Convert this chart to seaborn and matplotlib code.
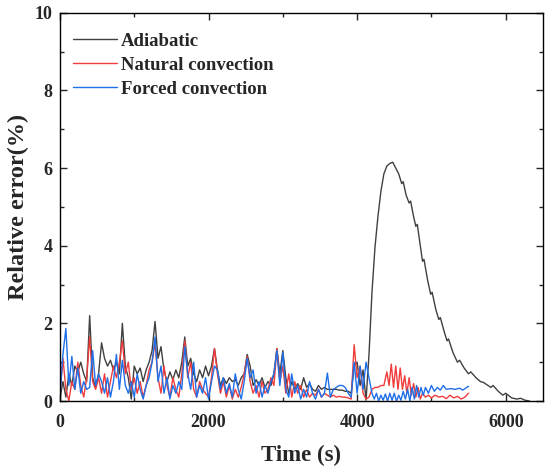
import matplotlib
matplotlib.use("Agg")
import matplotlib.pyplot as plt
import numpy as np
import pandas as pd
import seaborn as sns
from matplotlib.ticker import MultipleLocator

# 0 ~ 4080 s 구간 (40 s 간격)
t_early = np.arange(0, 4120, 40)

adiabatic_early = [
    0.05, 0.5, 0.1, 0.7, 0.4, 0.9, 0.75, 1.0, 0.7, 0.5,
    2.2, 0.6, 0.35, 0.7, 1.5, 1.1, 0.9, 1.05, 0.8, 1.0,
    0.7, 2.0, 0.9, 0.6, 0.05, 0.9, 0.7, 0.85, 0.5, 0.8,
    1.0, 1.3, 2.05, 1.1, 1.4, 0.8, 0.5, 0.75, 0.55, 0.8,
    0.6, 1.0, 1.65, 0.9, 1.1, 0.7, 0.5, 0.8, 0.6, 0.9,
    0.65, 0.9, 1.35, 0.8, 0.4, 0.6, 0.45, 0.6, 0.5, 0.55,
    0.4, 0.6, 0.7, 1.2, 0.9, 0.4, 0.55, 0.4, 0.6, 0.35,
    0.5, 0.4, 0.7, 1.35, 0.7, 1.3, 0.6, 0.2, 0.5, 0.3,
    0.45, 0.3, 0.6, 0.35, 0.45, 0.3, 0.25, 0.4, 0.3, 0.35,
    0.3, 0.3, 0.3, 0.3, 0.28, 0.28, 0.25, 0.25, 0.2, 0.9,
    1.0, 0.4, 0.8,
]
natural_early = [
    0.2, 1.1, 0.3, 0.0, 0.5, 0.3, 1.0, 0.4, 0.1, 0.6,
    1.65, 0.5, 0.3, 0.6, 0.2, 0.7, 0.1, 0.5, 0.9, 0.6,
    1.0, 1.55, 0.7, 1.0, 0.3, 0.6, 0.2, 0.5, 0.1, 0.4,
    0.8, 1.0, 1.5, 0.6, 0.2, 0.9, 0.4, 0.1, 0.6, 0.3,
    0.1, 0.7, 1.55, 0.6, 1.0, 0.3, 0.1, 0.5, 0.3, 0.2,
    0.1, 0.6, 1.35, 0.7, 0.2, 0.5, 0.1, 0.4, 0.05, 0.3,
    0.1, 0.35, 0.7, 1.15, 0.5, 0.2, 0.4, 0.1, 0.5, 0.2,
    0.3, 0.6, 0.4, 1.35, 0.5, 0.9, 0.2, 0.7, 0.1, 0.5,
    0.2, 0.4, 0.1, 0.3, 0.1, 0.2, 0.15, 0.3, 0.1, 0.2,
    0.15, 0.1, 0.15, 0.1, 0.12, 0.1, 0.1, 0.08, 0.05, 1.45,
    0.6, 0.9, 0.2,
]
forced_early = [
    0.1, 1.2, 1.87, 0.4, 1.15, 0.3, 0.85, 0.2, 0.5, 0.3,
    0.35, 1.3, 0.4, 0.7, 0.5, 0.2, 0.6, 0.1, 0.5, 1.2,
    0.3, 1.05, 0.4, 0.2, 0.5, 0.1, 0.7, 0.3, 0.05, 0.4,
    0.6, 1.0, 1.65, 0.5, 0.9, 0.2, 0.6, 0.05, 0.4, 0.2,
    0.5, 0.3, 1.4, 0.7, 0.3, 1.0, 0.1, 0.4, 0.2, 0.6,
    0.05, 0.5, 0.9, 0.8, 0.3, 0.6, 0.2, 0.45, 0.1, 0.7,
    0.3, 0.05, 0.5, 1.1, 0.6, 0.8, 0.2, 0.5, 0.1, 0.4,
    0.2, 0.5, 0.7, 1.3, 0.4, 1.25, 0.3, 0.1, 0.7, 0.2,
    0.4, 0.05, 0.3, 0.1, 0.5, 0.2, 0.05, 0.3, 0.1, 0.2,
    0.72, 0.1, 0.3, 0.35, 0.4, 0.4, 0.35, 0.2, 0.1, 1.0,
    0.2, 0.9, 0.3,
]

# 4120 s 이후 구간
t_adiabatic_late = [
    4120, 4160, 4200, 4240, 4280, 4320, 4360, 4400, 4440, 4480,
    4520, 4560, 4600, 4620, 4660, 4700, 4720, 4760, 4790, 4810,
    4850, 4880, 4900, 4950, 4990, 5010, 5060, 5100, 5120, 5170,
    5210, 5230, 5290, 5350, 5380, 5440, 5500, 5530, 5600, 5660,
    5700, 5760, 5800, 5830, 5900, 5960, 6000, 6080, 6150, 6200,
    6260, 6320,
]
adiabatic_late = [
    0.02, 1.2, 2.8, 3.95, 4.75, 5.4, 5.85, 6.05, 6.12, 6.15,
    6.0, 5.85, 5.6, 5.65, 5.3, 5.1, 5.15, 4.75, 4.5, 4.55,
    4.0, 3.6, 3.65, 3.1, 2.75, 2.8, 2.35, 2.1, 2.15, 1.8,
    1.55, 1.6, 1.25, 1.0, 1.05, 0.85, 0.7, 0.75, 0.6, 0.5,
    0.48, 0.4, 0.35, 0.4, 0.25, 0.15, 0.2, 0.08, 0.05, 0.07,
    0.02, 0.0,
]

t_natural_late = [
    4120, 4160, 4200, 4240, 4280, 4320, 4360, 4400, 4430, 4460,
    4490, 4520, 4550, 4580, 4610, 4640, 4670, 4700, 4730, 4760,
    4790, 4820, 4850, 4880, 4920, 4960, 5000, 5050, 5100, 5150,
    5200, 5250, 5300, 5350, 5400, 5450, 5500,
]
natural_late = [
    0.05, 0.1, 0.3, 0.35, 0.35, 0.4, 0.4, 0.75, 0.4, 0.95,
    0.35, 0.9, 0.3, 0.85, 0.3, 0.65, 0.2, 0.6, 0.15, 0.45,
    0.1, 0.35, 0.05, 0.2, 0.1, 0.15, 0.08, 0.15, 0.1, 0.12,
    0.06, 0.15, 0.08, 0.12, 0.05, 0.1, 0.2,
]

t_forced_late = [
    4120, 4160, 4200, 4230, 4260, 4290, 4320, 4350, 4380, 4410,
    4440, 4470, 4500, 4530, 4560, 4590, 4620, 4650, 4680, 4710,
    4740, 4770, 4800, 4830, 4860, 4890, 4920, 4960, 5000, 5040,
    5080, 5120, 5160, 5200, 5260, 5320, 5380, 5420, 5460, 5500,
]
forced_late = [
    1.0, 0.6, 0.2, 0.05, 0.2, 0.0, 0.15, 0.02, 0.18, 0.0,
    0.2, 0.02, 0.2, 0.0, 0.15, 0.02, 0.25, 0.05, 0.3, 0.0,
    0.35, 0.05, 0.4, 0.1, 0.35, 0.15, 0.35, 0.2, 0.4, 0.25,
    0.35, 0.28, 0.4, 0.3, 0.32, 0.3, 0.33, 0.28, 0.33, 0.38,
]

labels = ["Adiabatic", "Natural convection", "Forced convection"]
colors = ["#404040", "#f03c3c", "#1f6fe8"]

frames = []
for name, t1, v1, t2, v2 in [
    (labels[0], t_early, adiabatic_early, t_adiabatic_late, adiabatic_late),
    (labels[1], t_early, natural_early, t_natural_late, natural_late),
    (labels[2], t_early, forced_early, t_forced_late, forced_late),
]:
    frames.append(pd.DataFrame({"time": list(t1) + list(t2),
                                "error": list(v1) + list(v2),
                                "case": name}))
df = pd.concat(frames, ignore_index=True)

sns.set_style("ticks")
plt.rcParams["font.family"] = ["Liberation Serif", "DejaVu Serif"]
plt.rcParams["font.weight"] = "bold"

fig = plt.figure(figsize=(5.5, 4.74), dpi=100)
ax = fig.add_axes([0.109, 0.154, 0.878, 0.819])

sns.lineplot(data=df, x="time", y="error", hue="case", hue_order=labels,
             palette=colors, estimator=None, sort=False, linewidth=1.0, ax=ax)

ax.set_xlim(0, 6500)
ax.set_ylim(0, 10)
ax.xaxis.set_major_locator(MultipleLocator(2000))
ax.xaxis.set_minor_locator(MultipleLocator(1000))
ax.yaxis.set_major_locator(MultipleLocator(2))
ax.yaxis.set_minor_locator(MultipleLocator(1))
ax.tick_params(which="both", direction="in", top=True, right=True,
               labeltop=False, labelright=False, width=1.0)
ax.tick_params(which="major", length=5, labelsize=13)
ax.tick_params(which="minor", length=3)
ax.tick_params(axis="x", which="major", pad=9)
ax.tick_params(axis="y", which="major", pad=5.5)
for lab in ax.get_xticklabels() + ax.get_yticklabels():
    lab.set_fontweight("bold")
for s in ax.spines.values():
    s.set_linewidth(1.0)
    s.set_color("black")

ax.set_xlabel("Time (s)", fontsize=16.5, fontweight="bold", labelpad=10)
ax.set_ylabel("Relative error(%)", fontsize=17.5, fontweight="bold", labelpad=4)

leg = ax.legend(loc="upper left", frameon=False, fontsize=13.5,
                handlelength=2.35, handletextpad=0.2, labelspacing=0.36,
                borderaxespad=0.0, bbox_to_anchor=(0.0114, 0.968))
for t in leg.get_texts():
    t.set_fontweight("bold")

fig.savefig("out.png", dpi=100)
